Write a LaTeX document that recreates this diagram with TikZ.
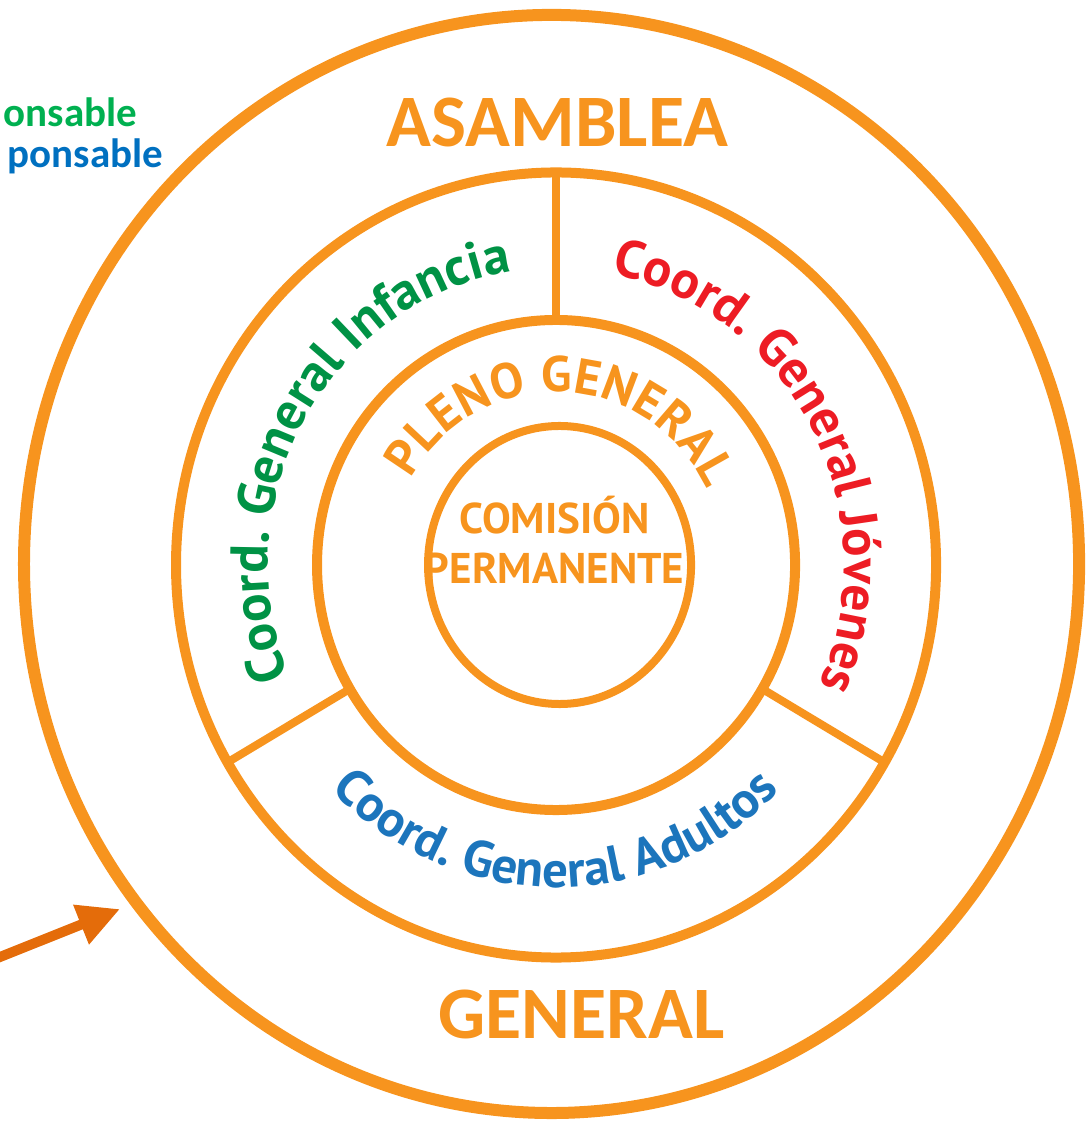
\documentclass[tikz,border=0pt]{standalone}
\usepackage{fontspec}
\setmainfont{Carlito}
\newfontfamily\ringfamily{PT Sans}
\usetikzlibrary{arrows.meta, positioning, shapes.geometric, decorations.text}

\definecolor{ringorange}{RGB}{247,148,30}
\definecolor{pointer}{RGB}{228,108,10}
\definecolor{infancia}{RGB}{0,146,69}
\definecolor{jovenes}{RGB}{237,28,36}
\definecolor{adultos}{RGB}{28,117,188}
\definecolor{topgreen}{RGB}{0,176,80}
\definecolor{topblue}{RGB}{0,112,192}

\newcommand{\arcfont}{\ringfamily\bfseries\fontsize{26.5}{30}\selectfont}
\newcommand{\lowarcfont}{\ringfamily\bfseries\fontsize{25.5}{30}\selectfont}
\newcommand{\plenofont}{\ringfamily\bfseries\fontsize{25}{30}\selectfont}

\tikzstyle{every node}=[inner sep=0pt, outer sep=0pt]
\tikzset{>={Triangle[length=21pt, width=20pt]}}
\tikzset{
  ring/.style={draw=ringorange, ellipse},
  divider/.style={draw=ringorange, line width=4pt},
  bigtitle/.style={text=ringorange, anchor=base, font=\bfseries\fontsize{37}{40}\selectfont},
  coretext/.style={text=ringorange, anchor=base, font=\ringfamily\bfseries\fontsize{21.5}{25}\selectfont},
  toptext/.style={anchor=base east, font=\bfseries\fontsize{20.5}{24}\selectfont},
  arctext/.style={decorate, decoration={text along path, text align=fit to path, text={#1}}}
}

\begin{document}
\begin{tikzpicture}[x=0.5pt, y=0.515pt]
\useasboundingbox (-556,-541.7) rectangle (532,548.5);

% rings
\node (outer) [ring, line width=6pt, minimum width=527.5pt, minimum height=549pt] at (-4.5,1) {};
\node (coord) [ring, line width=5pt, minimum width=380pt, minimum height=392.5pt] at (0,0) {};
\node (pleno) [ring, line width=5pt, minimum width=239pt, minimum height=245pt] at (0,0) {};
\node (core)  [ring, line width=4pt, minimum width=131.5pt, minimum height=139pt] at (3.5,0) {};

\draw [divider] (pleno.90)  -- (coord.90);
\draw [divider] (pleno.211) -- (coord.211);
\draw [divider] (pleno.329) -- (coord.329);

% labels
\node (asamblea)   [bigtitle] at (1.5,405.8) {ASAMBLEA};
\node (general)    [bigtitle] at (25.5,-459.2) {GENERAL};
\node (comision)   [coretext] at (-1.5,31) {COMISIÓN};
\node (permanente) [coretext, below=25pt of comision.base, anchor=base] {PERMANENTE};

\node (onsable)  [toptext, text=topgreen] at (-419,425.2) {onsable};
\node (ponsable) [toptext, text=topblue]  at (-393,385.4) {ponsable};

% curved texts
\path [arctext={|\arcfont\color{infancia}|Coord. General Infancia}]
  (202:288) arc [start angle=202, end angle=99, radius=288];
\path [arctext={|\arcfont\color{jovenes}|Coord. General Jóvenes}]
  (79:288) arc [start angle=79, end angle=-24, radius=288];
\path [arctext={|\lowarcfont\color{adultos}|Coord. General Adultos}]
  (224:313) arc [start angle=224, end angle=315, radius=313];
\path [arctext={|\plenofont\color{ringorange}|PLENO GENERAL}]
  (150:168) arc [start angle=150, end angle=26, radius=168];

% pointer
\coordinate (arrowtail) at (-576,-388.3);
\coordinate (arrowtip)  at (-436,-334);
\draw [->, draw=pointer, fill=pointer, line width=5pt] (arrowtail) -- (arrowtip);

\end{tikzpicture}
\end{document}
